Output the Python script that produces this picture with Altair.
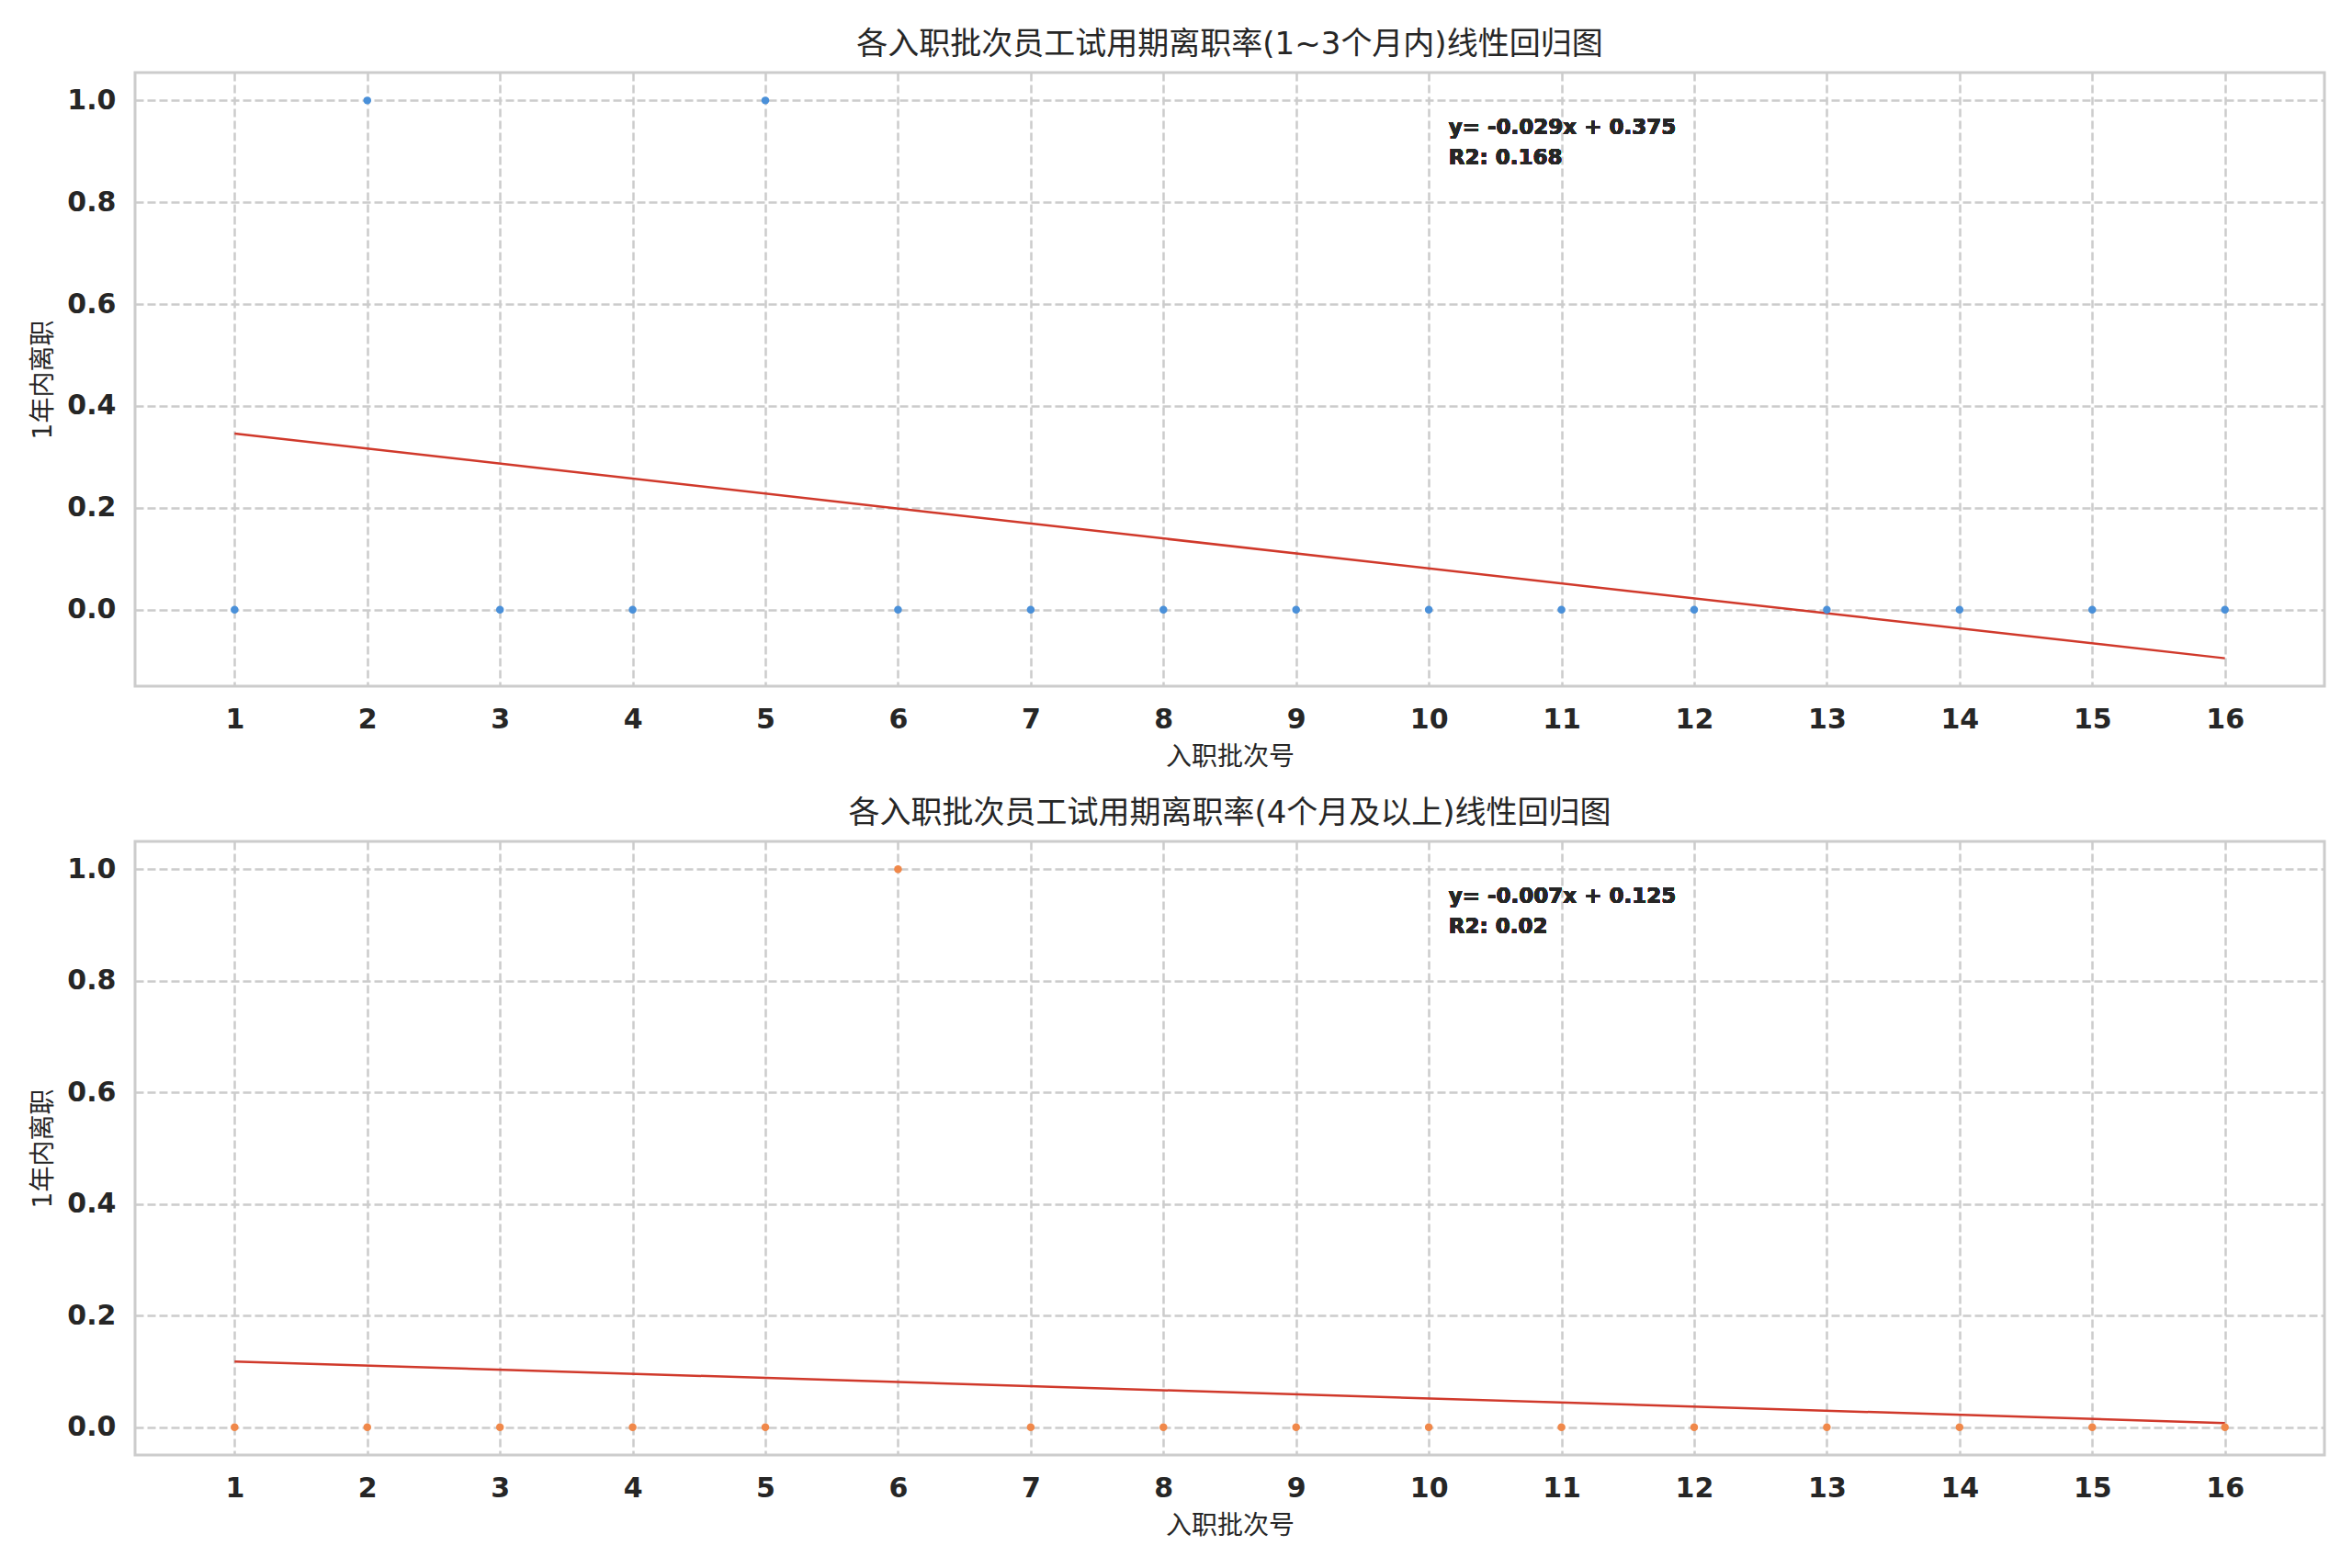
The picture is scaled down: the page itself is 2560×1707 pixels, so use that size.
import altair as alt
import pandas as pd
import numpy as np

# ---- data ----
months = list(range(1, 17))
y_short = [0, 1, 0, 0, 1, 0, 0, 0, 0, 0, 0, 0, 0, 0, 0, 0]
y_long = [0, 0, 0, 0, 0, 1, 0, 0, 0, 0, 0, 0, 0, 0, 0, 0]
x_ticks = list(range(1, 17))
y_ticks = [0.0, 0.2, 0.4, 0.6, 0.8, 1.0]

title_short = "各入职批次员工试用期离职率(1~3个月内)线性回归图"
title_long = "各入职批次员工试用期离职率(4个月及以上)线性回归图"
x_title = "入职批次号"
y_title = "1年内离职"

W, H = 2383, 668
FONT = "DejaVu Sans, Noto Sans CJK SC, sans-serif"


def fit_text(xs, ys):
    slope, intercept = np.polyfit(xs, ys, 1)
    pred = slope * np.array(xs) + intercept
    ss_res = float(np.sum((np.array(ys) - pred) ** 2))
    ss_tot = float(np.sum((np.array(ys) - np.mean(ys)) ** 2))
    r2 = 1 - ss_res / ss_tot
    return [f"y= {slope:.3f}x + {intercept:.3f}", f"R2: {round(r2, 3)}"]


def panel(ys, color, title, ydomain):
    df = pd.DataFrame({"x": months, "y": ys})
    base = alt.Chart(df)
    xenc = alt.X("x:Q", scale=alt.Scale(domain=[0.25, 16.75], nice=False, zero=False),
                 axis=alt.Axis(values=x_ticks, title=x_title, format="d"))
    yenc = alt.Y("y:Q", scale=alt.Scale(domain=ydomain, nice=False, zero=False),
                 axis=alt.Axis(values=y_ticks, title=y_title, format=".1f"))
    pts = base.mark_circle(size=72, opacity=1, color=color).encode(x=xenc, y=yenc)
    line = base.transform_regression("x", "y", extent=[1, 16]).mark_line(
        color="#d0392b", strokeWidth=2.5).encode(x="x:Q", y="y:Q")
    txt = base.mark_text(
        align="left", baseline="top", font=FONT, fontWeight="bold", fontSize=23,
        lineHeight=33, color="#262626"
    ).encode(x=alt.value(0.6 * W), y=alt.value(49), text=alt.value(fit_text(months, ys)))
    return alt.layer(line, pts, txt).properties(
        width=W, height=H,
        title=alt.TitleParams(title, fontSize=34, font=FONT, fontWeight="normal",
                              color="#262626", offset=13, anchor="middle"))


top = panel(y_short, "#4a90d9", title_short, [-0.1504, 1.0548])
bottom = panel(y_long, "#f0884a", title_long, [-0.05, 1.05])

chart = alt.vconcat(top, bottom, spacing=27).properties(
    padding={"left": 24, "top": 22, "right": 20, "bottom": 10}
).configure_view(stroke="#cccccc", strokeWidth=3).configure_axis(
    labelFont=FONT, labelFontWeight="bold", labelFontSize=30, labelColor="#262626",
    titleFont=FONT, titleFontWeight="normal", titleFontSize=28, titleColor="#262626",
    tickSize=0, domain=False, grid=True, gridColor="#cccccc", gridWidth=2.5,
    gridDash=[9, 4], labelPadding=18
).configure_axisX(labelPadding=21, titlePadding=12).configure_axisY(labelPadding=21, titlePadding=11)

chart.save("out.html", embed_options={"renderer": "svg", "actions": False})
